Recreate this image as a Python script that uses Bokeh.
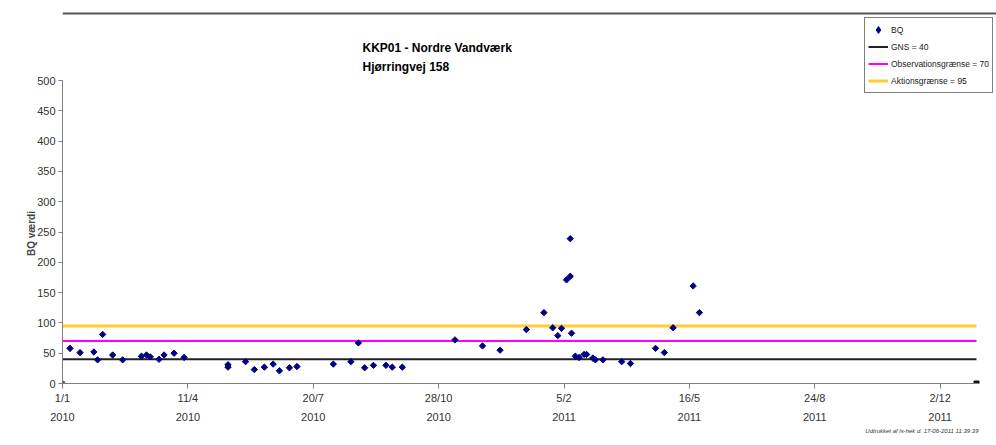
import math
import pandas as pd
from bokeh.plotting import figure
from bokeh.models import Range1d, FixedTicker, Title, Legend, LegendItem, Label, Span
from bokeh.embed import file_html
from bokeh.resources import INLINE

# ---------------- data ----------------
title_lines = ["KKP01 - Nordre Vandværk", "Hjørringvej 158"]
y_label = "BQ værdi"
footer_text = "Udtrukket af ls-hek d. 17-06-2011 11:39:39"

bq_dates = [
    "2010-01-07", "2010-01-15", "2010-01-26", "2010-01-29", "2010-02-02",
    "2010-02-10", "2010-02-18", "2010-03-05", "2010-03-09", "2010-03-12",
    "2010-03-19", "2010-03-23", "2010-03-31", "2010-04-08", "2010-05-13",
    "2010-05-13", "2010-05-27", "2010-06-03", "2010-06-11", "2010-06-18",
    "2010-06-23", "2010-07-01", "2010-07-07", "2010-08-05", "2010-08-19",
    "2010-08-25", "2010-08-30", "2010-09-06", "2010-09-16", "2010-09-21",
    "2010-09-29", "2010-11-10", "2010-12-02", "2010-12-16", "2011-01-06",
    "2011-01-20", "2011-01-27", "2011-01-31", "2011-02-03", "2011-02-07",
    "2011-02-10", "2011-02-10", "2011-02-11", "2011-02-14", "2011-02-17",
    "2011-02-21", "2011-02-23", "2011-02-28", "2011-03-02", "2011-03-08",
    "2011-03-23", "2011-03-30", "2011-04-19", "2011-04-26", "2011-05-03",
    "2011-05-19", "2011-05-24",
]
bq_values = [
    58, 51, 52, 39, 81,
    47, 39, 45, 47, 44,
    40, 47, 50, 43, 27,
    31, 36, 23, 27, 32,
    21, 26, 28, 32, 36,
    67, 26, 30, 30, 27,
    27, 72, 62, 55, 89,
    117, 92, 79, 91, 171,
    177, 239, 83, 45, 43,
    48, 48, 42, 39, 39,
    36, 33, 58, 51, 92,
    161, 117,
]

# end markers of the axis series
edge_dates = ["2010-01-01", "2011-12-31"]
edge_values = [0, 0]

gns_level = 40
obs_level = 70
akt_level = 95
gns_label = "GNS = 40"
obs_label = "Observationsgrænse = 70"
akt_label = "Aktionsgrænse = 95"
bq_label = "BQ"

x_start = "2010-01-01"
x_end = "2011-12-31"
x_tick_dates = ["2010-01-01", "2010-04-11", "2010-07-20", "2010-10-28",
                "2011-02-05", "2011-05-16", "2011-08-24", "2011-12-02"]
y_ticks = [0, 50, 100, 150, 200, 250, 300, 350, 400, 450, 500]

# ---------------- conversion ----------------
origin = pd.Timestamp(x_start)
def to_day(d):
    return (pd.Timestamp(d) - origin).days

bq_days = [to_day(d) for d in bq_dates]
edge_days = [to_day(d) for d in edge_dates]
end_day = to_day(x_end)
tick_days = [to_day(d) for d in x_tick_dates]
tick_labels = {}
for d in x_tick_dates:
    t = pd.Timestamp(d)
    tick_labels[to_day(d)] = f"{t.day}/{t.month}\n{t.year}"

# ---------------- layout geometry (pixels) ----------------
W, H = 996, 444
FRAME_L = 62
AXIS_END_PX = 976      # pixel column of the last date
FRAME_R = W            # frame extends right so the legend is not clipped
FRAME_TOP = 8          # frame extends up so the legend can overlap the plot area
DATA_TOP_PX = 80       # pixel row of the top tick
FRAME_B = 383
y_lo, y_hi = y_ticks[0], y_ticks[-1]
y_top = y_lo + (y_hi - y_lo) * (FRAME_B - FRAME_TOP) / (FRAME_B - DATA_TOP_PX)
x_right = end_day * (FRAME_R - FRAME_L) / (AXIS_END_PX - FRAME_L)

def xdata(px):
    return (px - FRAME_L) * end_day / (AXIS_END_PX - FRAME_L)

def ydata(py):
    return y_lo + (FRAME_B - py) * (y_hi - y_lo) / (FRAME_B - DATA_TOP_PX)

FONT = "Liberation Sans"

p = figure(width=W, height=H,
           x_range=Range1d(0, x_right), y_range=Range1d(y_lo, y_top),
           output_backend="svg", toolbar_location=None,
           min_border_left=FRAME_L, min_border_right=W - FRAME_R,
           min_border_top=FRAME_TOP, min_border_bottom=H - FRAME_B)
p.title.visible = False
p.background_fill_color = "white"
p.border_fill_color = "white"
p.outline_line_color = None
p.xgrid.visible = False
p.ygrid.visible = False

# chart-area border line at the top
p.add_layout(Span(location=ydata(13), dimension="width",
                  line_color="#555555", line_width=2))

# title (two lines)
for txt, ypx in zip(title_lines, [47, 66]):
    p.add_layout(Label(x=xdata(362), y=ydata(ypx), text=txt, text_align="left",
                       text_baseline="middle", text_font=FONT, text_font_size="12px",
                       text_font_style="bold", text_color="black"))

# threshold lines
r_gns = p.line([0, end_day], [gns_level, gns_level], line_color="#222222", line_width=2)
r_obs = p.line([0, end_day], [obs_level, obs_level], line_color="#FF00FF", line_width=2)
r_akt = p.line([0, end_day], [akt_level, akt_level], line_color="#FFCC33", line_width=3)

# edge markers
p.scatter(edge_days[:1], edge_values[:1], marker="circle", size=5,
          fill_color="#555555", line_color="#555555")
p.scatter(edge_days[1:], edge_values[1:], marker="square", size=5,
          fill_color="#111111", line_color="#111111")

# data
r_bq = p.scatter(bq_days, bq_values, marker="square", size=4.5, angle=math.pi / 4,
                 fill_color="#000080", line_color="#000080")
# legend swatch for the data series (diamond), hidden under the first point
r_bq_key = p.scatter(bq_days[:1], bq_values[:1], marker="diamond", size=6,
                     fill_color="#000080", line_color="#000080")

# axes
yax = p.yaxis[0]
yax.ticker = FixedTicker(ticks=y_ticks)
yax.bounds = (y_lo, y_hi)
# trailing no-break spaces move the rotated label's visible text down to the
# middle of the 0..500 part of the axis
yax.axis_label = y_label + "\u00a0" * 27
yax.axis_label_text_font = FONT
yax.axis_label_text_font_size = "10px"
yax.axis_label_text_font_style = "bold"
yax.axis_label_standoff = -3
yax.major_label_text_font = FONT
yax.major_label_text_font_size = "11px"
yax.major_label_text_color = "#333333"
yax.major_label_standoff = 3
yax.major_tick_in = 0
yax.major_tick_out = 4
yax.minor_tick_line_color = None
yax.axis_line_color = "#808080"
yax.major_tick_line_color = "#808080"

xax = p.xaxis[0]
xax.ticker = FixedTicker(ticks=tick_days)
xax.bounds = (0, end_day)
xax.major_label_overrides = tick_labels
xax.major_label_text_font = FONT
xax.major_label_text_font_size = "11px"
xax.major_label_text_color = "#333333"
xax.major_label_text_line_height = 1.6
xax.major_label_standoff = 3
xax.major_tick_in = 0
xax.major_tick_out = 5
xax.minor_tick_line_color = None
xax.axis_line_color = "#808080"
xax.major_tick_line_color = "#808080"

# legend (bottom-left corner given relative to the frame)
legend = Legend(items=[
    LegendItem(label=bq_label, renderers=[r_bq_key]),
    LegendItem(label=gns_label, renderers=[r_gns]),
    LegendItem(label=obs_label, renderers=[r_obs]),
    LegendItem(label=akt_label, renderers=[r_akt]),
], location=(864 - FRAME_L, FRAME_B - 93))
legend.border_line_color = "black"
legend.border_line_width = 1
legend.background_fill_color = "white"
legend.background_fill_alpha = 1
legend.label_text_font = FONT
legend.label_text_font_size = "8.5px"
legend.label_text_color = "#222222"
legend.glyph_width = 20
legend.glyph_height = 17
legend.label_height = 17
legend.label_standoff = 3
legend.spacing = 0
legend.padding = 3
legend.margin = 0
p.add_layout(legend)

# footer
p.add_layout(Title(text=footer_text, align="right", offset=W - 978, text_font=FONT,
                   text_font_size="6px", text_font_style="italic",
                   text_color="#333333", standoff=0), "below")

open("out.html", "w").write(file_html(p, INLINE))
